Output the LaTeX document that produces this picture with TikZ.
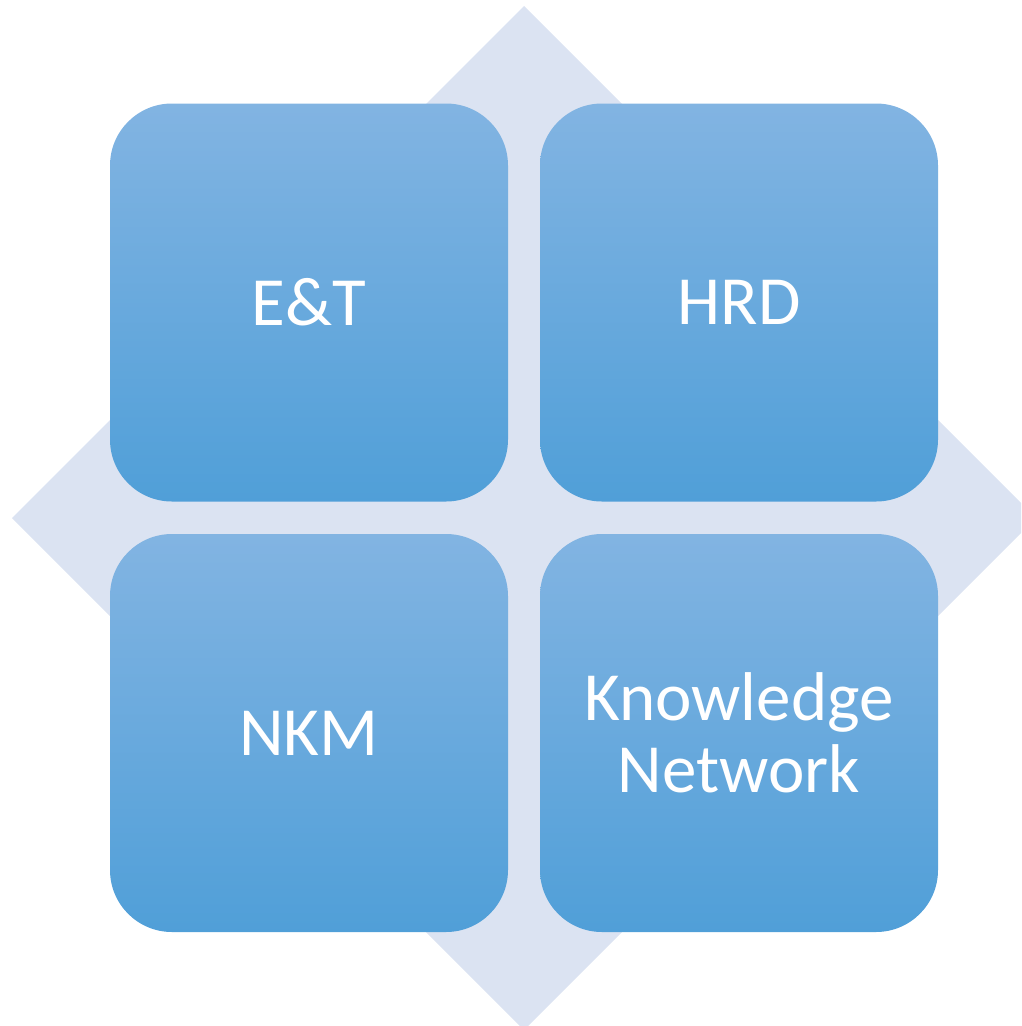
\documentclass[tikz,border=0pt]{standalone}
\usepackage{fontspec}
\setmainfont{Carlito}
\definecolor{diamondfill}{RGB}{219,227,242}
\definecolor{boxtop}{RGB}{130,180,226}
\definecolor{boxbottom}{RGB}{80,159,216}
\begin{document}
\begin{tikzpicture}[x=1pt,y=-1pt,
  tile/.style={rectangle, rounded corners=62pt, minimum width=398pt, minimum height=398pt,
    top color=boxtop, bottom color=boxbottom, draw=none, text=white, align=center,
    font=\fontsize{69}{72}\selectfont, inner sep=0pt}]
\useasboundingbox (0,0) rectangle (1021,1026);
\clip (0,0) rectangle (1021,1026);
\fill[diamondfill] (524,6) -- (1036,518) -- (524,1030) -- (12,518) -- cycle;
\node[tile] (et) at (309,302.5) {E\&T};
\node[tile] (hrd) at (739,302.5) {HRD};
\node[tile] (nkm) at (309,733) {NKM};
\node[tile] (kn) at (739,733) {Knowledge\\Network};
\end{tikzpicture}
\end{document}
